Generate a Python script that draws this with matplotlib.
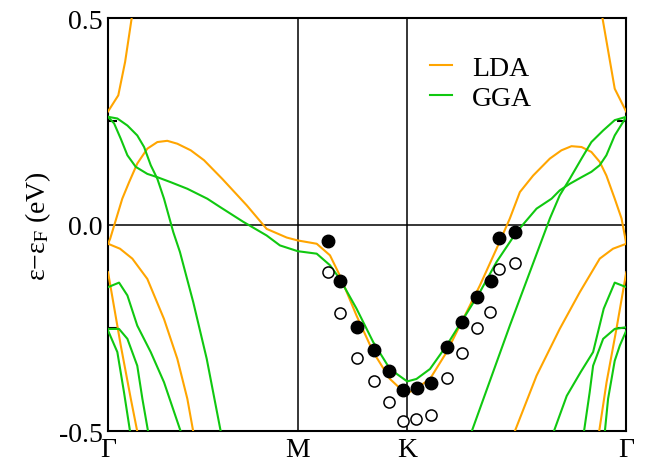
import numpy as np
import matplotlib
matplotlib.use("Agg")
import matplotlib.pyplot as plt
from matplotlib.ticker import FixedLocator

plt.rcParams['font.family'] = ['Liberation Serif', 'DejaVu Serif']
plt.rcParams['mathtext.fontset'] = 'stix'
plt.rcParams['axes.unicode_minus'] = False

# high-symmetry points along the path (Gamma-M = 1)
sym_pos = [0.0, 1.0, 1.577, 2.732]
sym_lab = ['Γ', 'M', 'K', 'Γ']

# LDA bands (k, energy in eV)
lda_k1 = [0.0, 0.054, 0.090, 0.125, 0.158]
lda_e1 = [0.274, 0.313, 0.394, 0.501, 0.60]
lda_k2 = [2.732, 2.671, 2.606, 2.574]
lda_e2 = [0.273, 0.329, 0.501, 0.60]
lda_k3 = [0.0, 0.011, 0.075, 0.111, 0.154, 0.207, 0.260, 0.312, 0.365, 0.436,
          0.506, 0.602, 0.731, 0.836, 0.942, 1.0, 1.100, 1.170, 1.222, 1.310,
          1.398, 1.486, 1.556, 1.579, 1.609, 1.697, 1.785, 1.872, 1.960, 2.048,
          2.118, 2.171, 2.241, 2.329, 2.390, 2.443, 2.496, 2.548, 2.592, 2.627,
          2.671, 2.707, 2.732]
lda_e3 = [-0.046, -0.034, 0.063, 0.103, 0.148, 0.184, 0.200, 0.203, 0.196, 0.180,
          0.156, 0.111, 0.047, -0.010, -0.031, -0.038, -0.046, -0.074, -0.123, -0.220,
          -0.308, -0.373, -0.403, -0.406, -0.401, -0.373, -0.308, -0.228, -0.147, -0.058,
          0.015, 0.079, 0.119, 0.160, 0.180, 0.190, 0.188, 0.176, 0.152, 0.119,
          0.063, 0.015, -0.046]
lda_k4 = [0.0, 0.063, 0.128, 0.207, 0.295, 0.365, 0.418, 0.449, 0.464]
lda_e4 = [-0.046, -0.058, -0.082, -0.131, -0.228, -0.324, -0.421, -0.500, -0.55]
lda_k5 = [2.120, 2.144, 2.259, 2.381, 2.487, 2.592, 2.662, 2.732]
lda_e5 = [-0.55, -0.500, -0.365, -0.252, -0.163, -0.082, -0.058, -0.046]
lda_k6 = [0.0, 0.067, 0.120, 0.154, 0.175]
lda_e6 = [-0.115, -0.292, -0.421, -0.500, -0.55]
lda_k7 = [2.732, 2.680, 2.628, 2.589, 2.575]
lda_e7 = [-0.115, -0.252, -0.381, -0.500, -0.55]

# GGA bands
gga_k1 = [0.0, 0.049, 0.102, 0.154, 0.190, 0.225, 0.260, 0.295, 0.344, 0.379,
          0.449, 0.520, 0.594, 0.615]
gga_e1 = [0.261, 0.257, 0.240, 0.216, 0.188, 0.144, 0.111, 0.063, -0.018, -0.066,
          -0.187, -0.324, -0.500, -0.55]
gga_k2 = [0.0, 0.032, 0.067, 0.102, 0.146, 0.207, 0.260, 0.330, 0.418, 0.523,
          0.590, 0.713, 0.836, 0.906, 1.0, 1.100, 1.170, 1.222, 1.310, 1.398,
          1.486, 1.577, 1.626, 1.697, 1.785, 1.872, 1.960, 2.048, 2.153, 2.259,
          2.338, 2.381, 2.434, 2.496, 2.548, 2.592, 2.627, 2.671, 2.732]
gga_e2 = [0.261, 0.245, 0.208, 0.168, 0.140, 0.123, 0.115, 0.103, 0.087, 0.063,
          0.043, 0.007, -0.026, -0.050, -0.064, -0.070, -0.098, -0.131, -0.203, -0.284,
          -0.349, -0.379, -0.373, -0.349, -0.292, -0.228, -0.163, -0.090, -0.018, 0.039,
          0.063, 0.083, 0.099, 0.115, 0.128, 0.144, 0.168, 0.216, 0.261]
gga_k3 = [1.898, 1.917, 2.118, 2.329, 2.381, 2.434, 2.496, 2.548, 2.610, 2.671, 2.732]
gga_e3 = [-0.55, -0.500, -0.244, 0.015, 0.071, 0.111, 0.160, 0.200, 0.228, 0.253, 0.261]
gga_k4 = [0.0, 0.058, 0.102, 0.154, 0.225, 0.295, 0.383, 0.400]
gga_e4 = [-0.151, -0.140, -0.171, -0.244, -0.308, -0.381, -0.500, -0.55]
gga_k5 = [0.0, 0.058, 0.102, 0.154, 0.181, 0.211, 0.220]
gga_e5 = [-0.252, -0.252, -0.276, -0.341, -0.421, -0.500, -0.55]
gga_k6 = [0.0, 0.049, 0.084, 0.116, 0.125]
gga_e6 = [-0.256, -0.308, -0.405, -0.500, -0.55]
gga_k7 = [2.732, 2.671, 2.613, 2.557, 2.492, 2.418, 2.350, 2.335]
gga_e7 = [-0.151, -0.140, -0.203, -0.308, -0.356, -0.414, -0.500, -0.55]
gga_k8 = [2.732, 2.671, 2.610, 2.557, 2.539, 2.509, 2.503]
gga_e8 = [-0.248, -0.252, -0.276, -0.341, -0.405, -0.500, -0.55]
gga_k9 = [2.732, 2.698, 2.671, 2.636, 2.619, 2.614]
gga_e9 = [-0.256, -0.292, -0.329, -0.421, -0.500, -0.55]

# experimental points
exp_k = [1.161, 1.222, 1.310, 1.403, 1.482, 1.556, 1.630, 1.705, 1.785, 1.864,
         1.943, 2.018, 2.062, 2.144]
exp_filled = [-0.040, -0.137, -0.248, -0.302, -0.353, -0.399, -0.395, -0.383, -0.295, -0.236,
              -0.175, -0.135, -0.031, -0.018]
exp_open_k = [1.158, 1.222, 1.310, 1.401, 1.482, 1.553, 1.626, 1.705, 1.785, 1.864,
              1.943, 2.014, 2.062, 2.144]
exp_open = [-0.115, -0.214, -0.322, -0.378, -0.428, -0.474, -0.471, -0.460, -0.370, -0.311,
            -0.249, -0.210, -0.108, -0.092]

lda_c = '#ffa500'
gga_c = '#10c810'

fig = plt.figure(figsize=(6.47, 4.64), dpi=100)
ax = fig.add_axes([0.167, 0.068, 0.801, 0.891])

lda = [(lda_k1, lda_e1), (lda_k2, lda_e2), (lda_k3, lda_e3), (lda_k4, lda_e4),
       (lda_k5, lda_e5), (lda_k6, lda_e6), (lda_k7, lda_e7)]
gga = [(gga_k1, gga_e1), (gga_k2, gga_e2), (gga_k3, gga_e3), (gga_k4, gga_e4),
       (gga_k5, gga_e5), (gga_k6, gga_e6), (gga_k7, gga_e7), (gga_k8, gga_e8),
       (gga_k9, gga_e9)]

for i, (k, e) in enumerate(lda):
    ax.plot(k, e, color=lda_c, lw=1.5, label='LDA' if i == 0 else None, zorder=3)
for i, (k, e) in enumerate(gga):
    ax.plot(k, e, color=gga_c, lw=1.5, label='GGA' if i == 0 else None, zorder=3)

ax.plot(exp_k, exp_filled, 'o', color='black', ms=9, zorder=5)
ax.plot(exp_open_k, exp_open, 'o', mfc='white', mec='black', mew=1.1, ms=8, zorder=5)

for p in sym_pos[1:3]:
    ax.axvline(p, color='black', lw=1.1, zorder=2)
ax.axhline(0, color='black', lw=1.1, zorder=2)

ax.set_xlim(sym_pos[0], sym_pos[-1])
ax.set_ylim(-0.5, 0.5)
ax.set_xticks(sym_pos)
ax.set_xticklabels(sym_lab)
ax.set_yticks([-0.5, 0.0, 0.5])
ax.set_yticklabels(['-0.5', '0.0', '0.5'])
ax.yaxis.set_minor_locator(FixedLocator([-0.25, 0.25]))
ax.tick_params(axis='x', length=0, labelsize=20, pad=4)
ax.tick_params(axis='y', which='both', direction='in', left=True, right=True,
               labelsize=20, pad=4)
ax.tick_params(axis='y', which='major', length=0)
ax.tick_params(axis='y', which='minor', length=6.5, width=1.5)
for s in ax.spines.values():
    s.set_linewidth(1.5)

ax.set_ylabel('ε−ε$_{\\mathrm{F}}$ (eV)', fontsize=20, labelpad=4)

ax.legend(loc='upper left', bbox_to_anchor=(0.60, 0.936), frameon=False,
          fontsize=20, handlelength=0.8, handletextpad=0.7, labelspacing=0.15,
          borderaxespad=0)

fig.savefig('out.png', dpi=100)
